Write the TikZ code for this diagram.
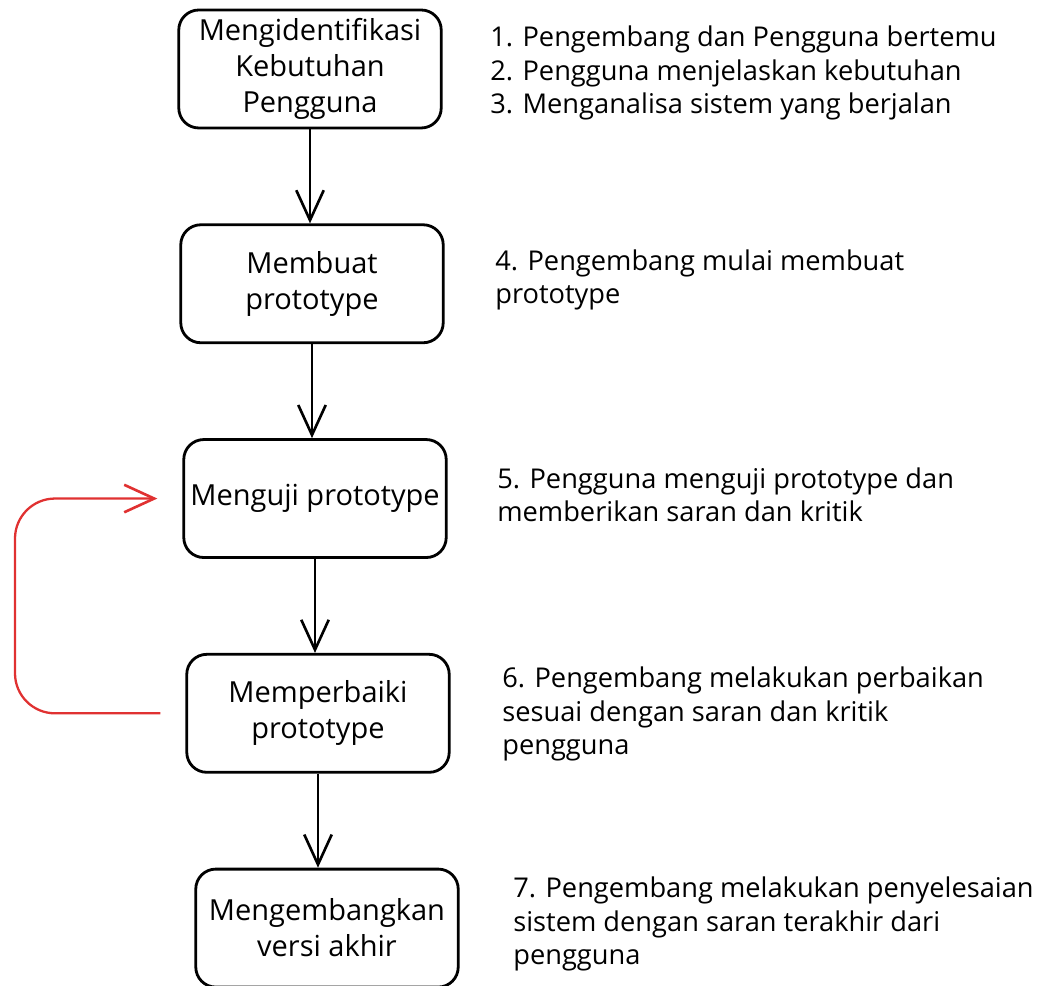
\documentclass[tikz,border=0pt]{standalone}
\usepackage{fontspec}
\setmainfont{Open Sans}
\usepackage{xcolor}
\usepackage{tikz}
\usetikzlibrary{arrows.meta,positioning}
\definecolor{loopred}{HTML}{E03131}
\tikzset{
  stagebox/.style={rectangle, rounded corners=0.4cm, draw=black, line width=1.6pt, minimum width=5.25cm, minimum height=2.36cm, inner sep=2pt, align=center, font=\fontsize{16.5}{20.5}\selectfont, fill=white},
  note/.style={anchor=west, align=left, inner sep=0pt, font=\fontsize{15.5}{19}\selectfont},
  flow/.style={line width=1.6pt, -{Straight Barb[length=6mm,width=5.5mm,line width=1.5pt]}},
  loopback/.style={flow, draw=loopred, line width=1.3pt, rounded corners=0.8cm, shorten <=0.5cm, shorten >=0.5cm},
}

\begin{document}
\begin{tikzpicture}[x=0.02cm, y=-0.02cm, node distance=1.88cm]
  \useasboundingbox (0,0) rectangle (1041,986);
  \node[stagebox] (ident) at (310,69) {Mengidentifikasi\\Kebutuhan\\Pengguna};
  \node[stagebox,below=of ident,xshift=0.04cm] (build) {Membuat\\prototype};
  \node[stagebox,below=of build,xshift=0.06cm] (test) {Menguji prototype};
  \node[stagebox,below=of test,xshift=0.06cm] (fix) {Memperbaiki\\prototype};
  \node[stagebox,below=of fix,xshift=0.18cm] (final) {Mengembangkan\\versi akhir};
  % catatan di kanan
  \node[note] (n1) at (490,73) {1. Pengembang dan Pengguna bertemu\\2. Pengguna menjelaskan kebutuhan\\3. Menganalisa sistem yang berjalan};
  \node[note] (n2) at (495,280) {4. Pengembang mulai membuat\\prototype};
  \node[note] (n3) at (497,495) {5. Pengguna menguji prototype dan\\memberikan saran dan kritik};
  \node[note] (n4) at (502,714) {6. Pengembang melakukan perbaikan\\sesuai dengan saran dan kritik\\pengguna};
  \node[note] (n5) at (513,924) {7. Pengembang melakukan penyelesaian\\sistem dengan saran terakhir dari\\pengguna};
  \coordinate (loopx) at (15,0);
  \draw[flow] (ident) -- (ident |- build.north);
  \draw[flow] (build) -- (build |- test.north);
  \draw[flow] (test) -- (test |- fix.north);
  \draw[flow] (fix) -- (fix |- final.north);
  \draw[loopback] (fix.west) -- (fix.west -| loopx) -- (test.west -| loopx) -- (test.west);
\end{tikzpicture}
\end{document}
